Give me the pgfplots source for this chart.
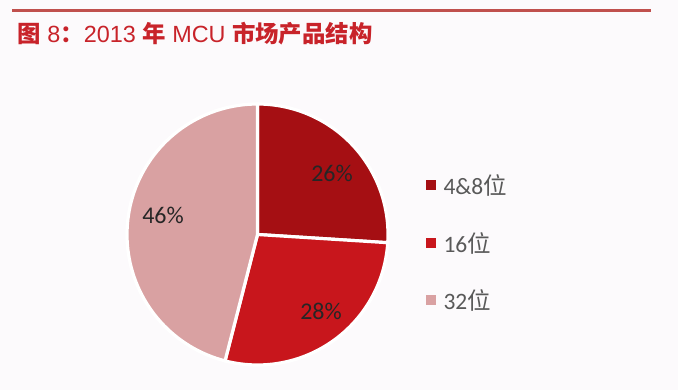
\documentclass[border=0pt]{standalone}
\usepackage{pgfplots}
\pgfplotsset{compat=1.18}
\usepackage{fontspec}
\setmainfont{Carlito}
\newfontfamily\cjk{Noto Sans CJK SC}
\newfontfamily\arial{Liberation Sans}
\definecolor{bg}{HTML}{FCFAFC}
\definecolor{cA}{HTML}{A50F13}
\definecolor{cB}{HTML}{C8161C}
\definecolor{cC}{HTML}{D9A1A2}
\definecolor{titlered}{HTML}{C8232A}
\definecolor{rulered}{HTML}{C0504D}
\definecolor{legtext}{HTML}{595959}
% data (percent)
\def\va{26}
\def\vb{28}
\def\vc{46}
\def\cx{257.5}
\def\cy{155.5}
\def\rr{130.5}
\begin{document}
\begin{tikzpicture}
\begin{axis}[x=1pt,y=1pt,xmin=0,xmax=678,ymin=0,ymax=390,hide axis,clip=false,scale only axis]
\fill[bg] (axis cs:0,0) rectangle (axis cs:678,390);
\draw[rulered,line width=3pt] (axis cs:12,379) -- (axis cs:651,379);
\node[anchor=west,text=titlered,font={\fontsize{23.4}{26}\selectfont}] at (axis cs:14,356) {{\cjk\bfseries 图}{\arial\ 8}{\cjk\bfseries ：}{\arial 2013 }{\cjk\bfseries 年}{\arial\ MCU }{\cjk\bfseries 市场产品结构}};
% slices
\addplot[fill=cA,draw=white,line width=3.2pt,domain={90}:{90-3.6*\va},samples=60,variable=\t]
  ({\cx+\rr*cos(t)},{\cy+\rr*sin(t)}) -- (axis cs:\cx,\cy) -- cycle;
\addplot[fill=cB,draw=white,line width=3.2pt,domain={90-3.6*\va}:{90-3.6*(\va+\vb)},samples=60,variable=\t]
  ({\cx+\rr*cos(t)},{\cy+\rr*sin(t)}) -- (axis cs:\cx,\cy) -- cycle;
\addplot[fill=cC,draw=white,line width=3.2pt,domain={90-3.6*(\va+\vb)}:{-270},samples=80,variable=\t]
  ({\cx+\rr*cos(t)},{\cy+\rr*sin(t)}) -- (axis cs:\cx,\cy) -- cycle;
\node[font={\fontsize{24}{26}\selectfont},text=black!85] at (axis cs:332,217) {26\%};
\node[font={\fontsize{24}{26}\selectfont},text=black!85] at (axis cs:321,79) {28\%};
\node[font={\fontsize{24}{26}\selectfont},text=black!85] at (axis cs:163,175) {46\%};
% legend
\addplot[only marks,mark=square*,mark size=4.5pt,color=cA] coordinates {(431,205)};
\addplot[only marks,mark=square*,mark size=4.5pt,color=cB] coordinates {(431,147)};
\addplot[only marks,mark=square*,mark size=4.5pt,color=cC] coordinates {(431,90)};
\node[anchor=west,text=legtext,font={\fontsize{23.5}{26}\selectfont}] at (axis cs:440,205) {4\&8{\cjk 位}};
\node[anchor=west,text=legtext,font={\fontsize{23.5}{26}\selectfont}] at (axis cs:440,147) {16{\cjk 位}};
\node[anchor=west,text=legtext,font={\fontsize{23.5}{26}\selectfont}] at (axis cs:440,90) {32{\cjk 位}};
\end{axis}
\end{tikzpicture}
\end{document}
